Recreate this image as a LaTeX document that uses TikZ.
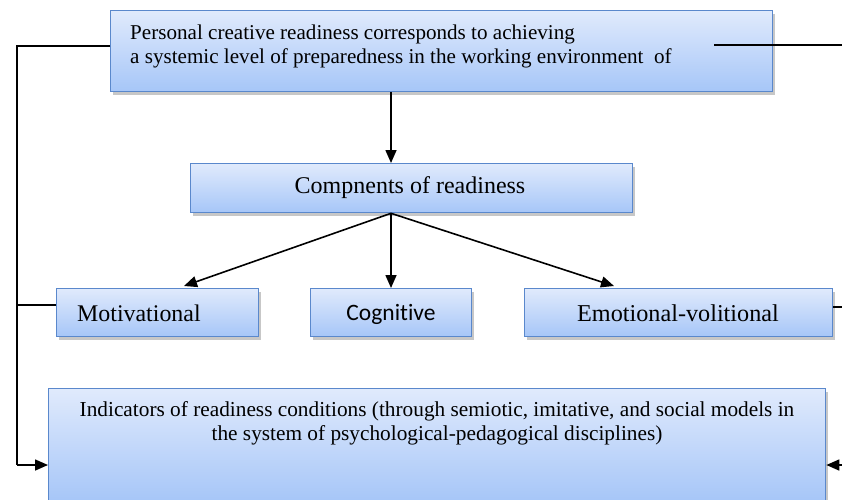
\documentclass[tikz,border=0pt]{standalone}
\usepackage{fontspec}
\setmainfont{Liberation Serif}
\newfontfamily\calib[Ligatures={NoCommon}]{Carlito}
\usetikzlibrary{arrows.meta,shadows}
\definecolor{boxtop}{HTML}{E0EAFC}
\definecolor{boxbot}{HTML}{A6C6F8}
\definecolor{boxline}{HTML}{5A88CC}
\begin{document}
\begin{tikzpicture}[x=1pt,y=-1pt,
  box/.style={draw=boxline, line width=1.3pt, top color=boxtop, bottom color=boxbot,
    drop shadow={shadow xshift=2pt, shadow yshift=-3pt, opacity=0.22, fill=black},
    inner sep=0pt, anchor=north west},
  txt/.style={inner sep=0pt, text=black},
  conn/.style={line width=1.6pt, black},
  arr/.style={conn, -{Triangle[length=13pt,width=11pt]}},
  ]
\useasboundingbox (0,0) rectangle (842,499);
% boxes
\node[box, minimum width=662pt, minimum height=81pt] (top) at (110,10) {};
\node[box, minimum width=442pt, minimum height=49pt] (comp) at (190,163) {};
\node[box, minimum width=202pt, minimum height=48pt] (mot) at (56,288) {};
\node[box, minimum width=161pt, minimum height=48pt] (cog) at (310,288) {};
\node[box, minimum width=308pt, minimum height=48pt] (emo) at (524,288) {};
\node[box, minimum width=777pt, minimum height=113pt] (bot) at (48,388) {};
% texts
\node[txt, anchor=west, align=left, font=\fontsize{21.1}{23.5}\selectfont] (toptext) at (130,46.5)
  {Personal creative readiness corresponds to achieving\\a systemic level of preparedness in the working environment\ \ of};
\node[txt, font=\fontsize{24}{27}\selectfont] (comptext) at (410,188) {Compnents of readiness};
\node[txt, anchor=west, font=\fontsize{23.9}{27}\selectfont] (mottext) at (77,313) {Motivational};
\node[txt, font=\calib\fontsize{23.5}{27}\selectfont] (cogtext) at (391,314) {Cognitive};
\node[txt, font=\fontsize{24.2}{27}\selectfont] (emotext) at (678,313) {Emotional-volitional};
\node[txt, align=center, font=\fontsize{21.3}{24}\selectfont] (bottext) at (437,423)
  {Indicators of readiness conditions (through semiotic, imitative, and social models in\\the system of psychological-pedagogical disciplines)};
% helper coordinates
\coordinate (ax) at (391,0);
\coordinate (L1) at (17,46);
\coordinate (L2) at (17,465);
\coordinate (LM) at (17,305);
\coordinate (R1) at (714,45);
\coordinate (R2) at (842,45);
\coordinate (RE) at (842,307);
\coordinate (RB) at (842,465);
\coordinate (mtip) at (184,286);
\coordinate (etip) at (614,286);
% connectors
\draw[arr] (top.south -| ax) -- (comp.north -| ax);
\draw[arr] (comp.south -| ax) -- (mtip);
\draw[arr] (comp.south -| ax) -- (cog.north -| ax);
\draw[arr] (comp.south -| ax) -- (etip);
\draw[conn] (top.west |- L1) -- (L1) -- (L2);
\draw[arr] (L2) -- (bot.west |- L2);
\draw[conn] (mot.west |- LM) -- (LM);
\draw[conn] (R1) -- (R2);
\draw[conn] (emo.east |- RE) -- (RE);
\draw[arr] (RB) -- (bot.east |- RB);
\end{tikzpicture}
\end{document}
